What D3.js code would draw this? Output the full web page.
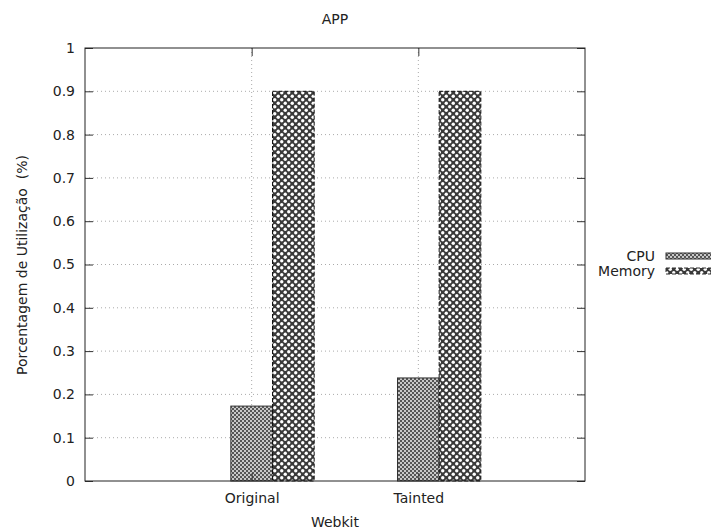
<!DOCTYPE html>
<html>
<head>
<meta charset="utf-8">
<script src="https://cdn.jsdelivr.net/npm/d3@7"></script>
<style>
  body { margin: 0; background: #fff; }
  text { font-family: "DejaVu Sans", sans-serif; font-size: 14px; fill: #222; white-space: pre; }
</style>
</head>
<body>
<svg id="chart" width="711" height="532"></svg>
<script>
// data
let categories = ["Original", "Tainted"]
let seriesNames = ["CPU", "Memory"]
let cpuValues = [0.173, 0.238]
let memoryValues = [0.9, 0.9]
let yTicks = [0, 0.1, 0.2, 0.3, 0.4, 0.5, 0.6, 0.7, 0.8, 0.9, 1]

let svg = d3.select('#chart')
let plotLeft = 85, plotRight = 585, plotTop = 48, plotBottom = 481

let x = d3.scaleLinear().domain([-1, categories.length]).range([plotLeft, plotRight])
let y = d3.scaleLinear().domain([0, 1]).range([plotBottom, plotTop])
let barW = x(0.25) - x(0)

// fill patterns
let defs = svg.append('defs')
let p1 = defs.append('pattern').attr('id', 'patCpu').attr('patternUnits', 'userSpaceOnUse')
  .attr('width', 4).attr('height', 4)
p1.append('rect').attr('width', 4).attr('height', 4).attr('fill', '#c8c8c8')
p1.append('rect').attr('width', 2).attr('height', 2).attr('fill', '#555')
p1.append('rect').attr('x', 2).attr('y', 2).attr('width', 2).attr('height', 2).attr('fill', '#555')

let p2 = defs.append('pattern').attr('id', 'patMem').attr('patternUnits', 'userSpaceOnUse')
  .attr('width', 7).attr('height', 7)
p2.append('rect').attr('width', 7).attr('height', 7).attr('fill', '#3a3a3a')
p2.append('circle').attr('cx', 1.75).attr('cy', 1.75).attr('r', 1.7).attr('fill', '#fff')
p2.append('circle').attr('cx', 5.25).attr('cy', 5.25).attr('r', 1.7).attr('fill', '#fff')

// grid
svg.append('g').selectAll('line')
  .data(yTicks.filter(t => t > 0 && t < 1))
  .enter().append('line')
  .attr('x1', plotLeft).attr('x2', plotRight)
  .attr('y1', d => y(d)).attr('y2', d => y(d))
  .attr('stroke', '#aaa').attr('stroke-dasharray', '1,3')

svg.append('g').selectAll('line')
  .data(categories)
  .enter().append('line')
  .attr('x1', (d, i) => x(i)).attr('x2', (d, i) => x(i))
  .attr('y1', plotTop).attr('y2', plotBottom)
  .attr('stroke', '#aaa').attr('stroke-dasharray', '1,3')

// bars
svg.append('g').selectAll('rect')
  .data(cpuValues)
  .enter().append('rect')
  .attr('x', (d, i) => x(i) - barW / 2)
  .attr('y', d => y(d))
  .attr('width', barW)
  .attr('height', d => plotBottom - y(d))
  .attr('fill', 'url(#patCpu)')
  .attr('stroke', '#333').attr('stroke-width', 1)

svg.append('g').selectAll('rect')
  .data(memoryValues)
  .enter().append('rect')
  .attr('x', (d, i) => x(i) + barW / 2)
  .attr('y', d => y(d))
  .attr('width', barW)
  .attr('height', d => plotBottom - y(d))
  .attr('fill', 'url(#patMem)')
  .attr('stroke', '#111').attr('stroke-width', 1).attr('stroke-dasharray', '4,2')

// axes
let yAxis = d3.axisLeft(y).tickValues(yTicks).tickFormat(d3.format('')).tickSizeInner(-8).tickSizeOuter(0).tickPadding(10)
let yAxisR = d3.axisRight(y).tickValues(yTicks).tickFormat('').tickSizeInner(-8).tickSizeOuter(0)
let xAxis = d3.axisBottom(x).tickValues(categories.map((c, i) => i))
  .tickFormat((d, i) => categories[i]).tickSizeInner(-8).tickSizeOuter(0).tickPadding(12)
let xAxisT = d3.axisTop(x).tickValues(categories.map((c, i) => i)).tickFormat('').tickSizeInner(-8).tickSizeOuter(0)

let styleAxis = g => {
  g.select('.domain').remove()
  g.selectAll('line').attr('stroke', '#333')
  g.selectAll('text').attr('font-family', '"DejaVu Sans", sans-serif').attr('font-size', 14).attr('fill', '#222')
}
svg.append('g').attr('transform', 'translate(' + plotLeft + ',0)').call(yAxis).call(styleAxis)
svg.append('g').attr('transform', 'translate(' + plotRight + ',0)').call(yAxisR).call(styleAxis)
svg.append('g').attr('transform', 'translate(0,' + plotBottom + ')').call(xAxis).call(styleAxis)
svg.append('g').attr('transform', 'translate(0,' + plotTop + ')').call(xAxisT).call(styleAxis)

svg.append('rect').attr('x', plotLeft).attr('y', plotTop)
  .attr('width', plotRight - plotLeft).attr('height', plotBottom - plotTop)
  .attr('fill', 'none').attr('stroke', '#222').attr('stroke-width', 1)

// titles
svg.append('text').attr('x', 335).attr('y', 24).attr('text-anchor', 'middle').text('APP')
svg.append('text').attr('x', 335).attr('y', 527).attr('text-anchor', 'middle').text('Webkit')
svg.append('text').attr('transform', 'translate(27,265) rotate(-90)').attr('text-anchor', 'middle')
  .text('Porcentagem de Utilização  (%)')

// legend
let legend = svg.append('g').selectAll('g')
  .data(seriesNames)
  .enter().append('g')
  .attr('transform', (d, i) => 'translate(0,' + (256 + i * 15) + ')')
legend.append('text').attr('x', 655).attr('y', 5).attr('text-anchor', 'end').text(d => d)
legend.append('rect').attr('x', 666).attr('y', -3).attr('width', 50).attr('height', 6)
  .attr('fill', (d, i) => i === 0 ? 'url(#patCpu)' : 'url(#patMem)')
  .attr('stroke', '#333').attr('stroke-width', 1)
  .attr('stroke-dasharray', (d, i) => i === 0 ? null : '4,2')
</script>
</body>
</html>
